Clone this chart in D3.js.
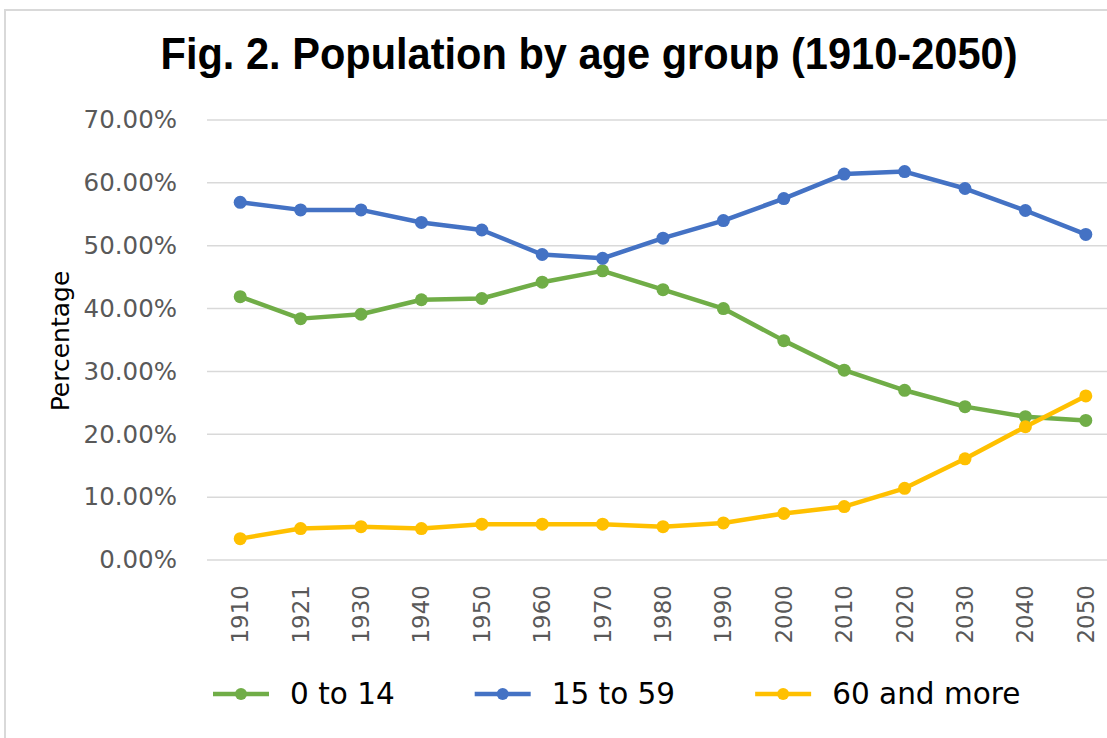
<!DOCTYPE html>
<html>
<head>
<meta charset="utf-8">
<script src="https://cdn.jsdelivr.net/npm/d3@7"></script>
<style>
  body { margin: 0; background: #fff; }
  svg { display: block; }
</style>
</head>
<body>
<svg width="1107" height="738"></svg>
<script>
var years = ["1910", "1921", "1930", "1940", "1950", "1960", "1970", "1980",
             "1990", "2000", "2010", "2020", "2030", "2040", "2050"];
var young = [41.9, 38.4, 39.1, 41.4, 41.6, 44.2, 46.0, 43.0, 40.0, 34.9, 30.2, 27.0, 24.4, 22.8, 22.2];
var working = [56.9, 55.7, 55.7, 53.7, 52.5, 48.6, 48.0, 51.2, 54.0, 57.5, 61.4, 61.8, 59.1, 55.6, 51.8];
var elderly = [3.4, 5.0, 5.3, 5.0, 5.7, 5.7, 5.7, 5.3, 5.9, 7.4, 8.5, 11.4, 16.1, 21.2, 26.1];
var seriesNames = ["0 to 14", "15 to 59", "60 and more"];
var seriesColors = ["#70ad47", "#4472c4", "#ffc000"];
var yTicks = [0, 0.1, 0.2, 0.3, 0.4, 0.5, 0.6, 0.7];

var series = [young, working, elderly].map(function (vals, i) {
    return {
        name: seriesNames[i],
        color: seriesColors[i],
        values: vals.map(function (v, j) { return { year: years[j], value: v / 100 }; })
    };
});

var svg = d3.select("svg");

// chart frame
svg.append("rect")
    .attr("x", 5).attr("y", 10)
    .attr("width", 1120).attr("height", 740)
    .attr("fill", "#fff")
    .attr("stroke", "#d9d9d9")
    .attr("stroke-width", 2);

var x = d3.scaleBand().domain(years).range([210, 1116]);
var y = d3.scaleLinear().domain([0, 0.7]).range([560, 120]);
function cx(d) { return x(d.year) + x.bandwidth() / 2; }

// gridlines
svg.append("g")
    .selectAll("line")
    .data(yTicks)
    .enter()
    .append("line")
    .attr("x1", 207).attr("x2", 1116)
    .attr("y1", function (d) { return y(d); })
    .attr("y2", function (d) { return y(d); })
    .attr("stroke", "#d9d9d9")
    .attr("stroke-width", 1.5);

// y axis
var yAxis = svg.append("g")
    .attr("transform", "translate(210,0)")
    .call(d3.axisLeft(y).tickValues(yTicks).tickFormat(d3.format(".2%")).tickSize(0).tickPadding(33));
yAxis.select(".domain").remove();
yAxis.selectAll("text")
    .attr("fill", "#595959")
    .style("font-family", "DejaVu Sans")
    .style("font-size", "24.5px");

// x axis
var xAxis = svg.append("g")
    .attr("transform", "translate(0,560)")
    .call(d3.axisBottom(x).tickSize(0));
xAxis.select(".domain").remove();
xAxis.selectAll("text")
    .attr("fill", "#595959")
    .attr("transform", "rotate(-90)")
    .attr("text-anchor", "end")
    .attr("x", -25)
    .attr("y", 0)
    .attr("dy", "0.35em")
    .style("font-family", "DejaVu Sans")
    .style("font-size", "23px");

// axis title
svg.append("text")
    .attr("transform", "translate(60,341) rotate(-90)")
    .attr("text-anchor", "middle")
    .attr("dy", "0.35em")
    .attr("fill", "#000")
    .style("font-family", "DejaVu Sans")
    .style("font-size", "25px")
    .text("Percentage");

// title
svg.append("text")
    .attr("x", 589).attr("y", 69)
    .attr("text-anchor", "middle")
    .attr("textLength", 857)
    .attr("lengthAdjust", "spacingAndGlyphs")
    .style("font-family", "'Liberation Sans', sans-serif")
    .style("font-weight", "bold")
    .style("font-size", "44px")
    .text("Fig. 2. Population by age group (1910-2050)");

// lines and markers
var line = d3.line()
    .x(cx)
    .y(function (d) { return y(d.value); });

var groups = svg.append("g")
    .selectAll("g")
    .data(series)
    .enter()
    .append("g");

groups.append("path")
    .attr("d", function (d) { return line(d.values); })
    .attr("fill", "none")
    .attr("stroke", function (d) { return d.color; })
    .attr("stroke-width", 4.5)
    .attr("stroke-linejoin", "round");

groups.selectAll("circle")
    .data(function (d) { return d.values.map(function (v) { return { year: v.year, value: v.value, color: d.color }; }); })
    .enter()
    .append("circle")
    .attr("cx", cx)
    .attr("cy", function (d) { return y(d.value); })
    .attr("r", 6.5)
    .attr("fill", function (d) { return d.color; });

// legend
var legend = svg.append("g").attr("transform", "translate(213,694)");
var offset = 0;
series.forEach(function (s) {
    var item = legend.append("g").attr("transform", "translate(" + offset + ",0)");
    item.append("line")
        .attr("x1", 0).attr("x2", 56)
        .attr("stroke", s.color)
        .attr("stroke-width", 4.5);
    item.append("circle")
        .attr("cx", 28).attr("r", 6)
        .attr("fill", s.color);
    var t = item.append("text")
        .attr("x", 77)
        .attr("dy", "0.35em")
        .attr("fill", "#000")
        .style("font-family", "DejaVu Sans")
        .style("font-size", "29.5px")
        .text(s.name);
    offset += 77 + t.node().getComputedTextLength() + 80;
});
</script>
</body>
</html>
